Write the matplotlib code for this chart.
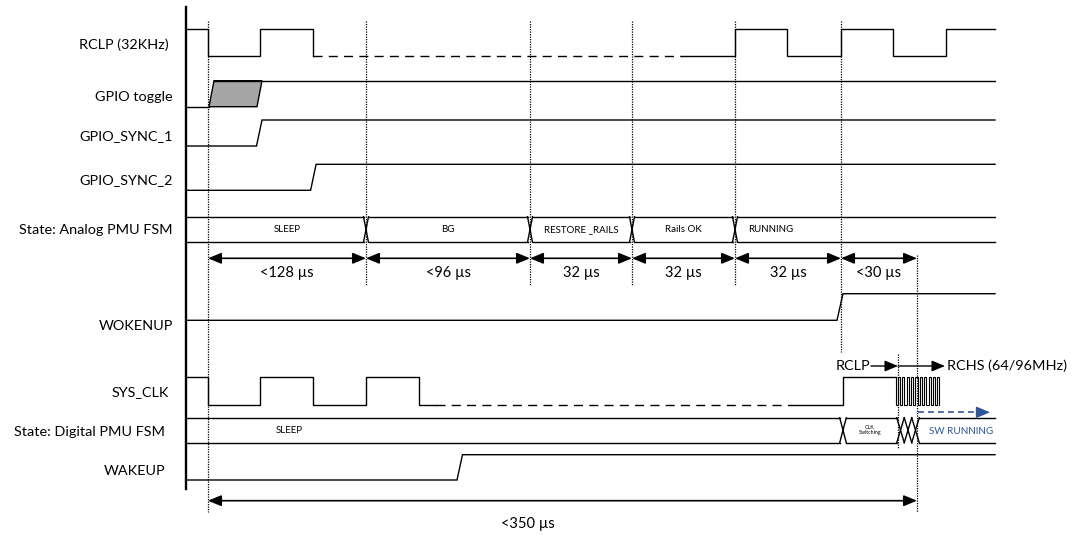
import matplotlib
matplotlib.use('Agg')
import matplotlib.pyplot as plt
from matplotlib.patches import Polygon, ArrowStyle

plt.rcParams['font.family'] = ['Lato', 'DejaVu Sans']

# ---- diagram data (x = time axis of the drawing, left to right) ----
x_start, x_stop = 186, 995
markers = [208, 366, 530, 632, 735, 841, 917]
durations = ['<128 µs', '<96 µs', '32 µs', '32 µs', '32 µs', '<30 µs']
total_label = '<350 µs'

signal_names = ['RCLP (32KHz)', 'GPIO toggle', 'GPIO_SYNC_1', 'GPIO_SYNC_2',
                'State: Analog PMU FSM', 'WOKENUP', 'SYS_CLK',
                'State: Digital PMU FSM', 'WAKEUP']

rclp_edges_a = [208, 260, 313]
rclp_idle = [313, 682]
rclp_edges_b = [735, 787, 841, 893, 946]

gpio_toggle_window = [209, 257]
sync1_edge = [256.5]
sync2_edge = [310.6]
wokenup_edge = [837]
wakeup_edge = [457]

sysclk_edges_a = [208, 260, 313, 366, 419]
sysclk_idle = [436, 791]
sysclk_edges_b = [843]
fast_clk_edges = [896, 898, 900, 902.2, 904.4, 906.6, 908.8, 911, 913.2, 915.4,
                  917.6, 919.8, 922, 924.2, 926.4, 928.6, 930.8, 933, 935.2, 937.4, 939.4]

analog_states = ['SLEEP', 'BG', 'RESTORE _RAILS', 'Rails OK', 'RUNNING']
digital_transitions = [843, 900.5, 908, 915.5]
digital_states = ['SLEEP', 'CLK\nSwitching', 'SW RUNNING']

blue = '#2f5597'

fig = plt.figure(figsize=(10.72, 5.36), dpi=100)
ax = fig.add_axes([0, 0, 1, 1])
ax.set_xlim(0, 1072)
ax.set_ylim(536, 0)
ax.axis('off')

LW = 1.0


def square(x0, x1, edges, start_hi, hi, lo, rise=0.0, lw=LW):
    lvl = start_hi
    xs, ys = [x0], [hi if lvl else lo]
    for e in edges:
        xs += [e, e + rise]
        ys += [hi if lvl else lo, lo if lvl else hi]
        lvl = not lvl
    xs.append(x1)
    ys.append(hi if lvl else lo)
    ax.plot(xs, ys, color='k', lw=lw, solid_joinstyle='miter')


def bus(x0, x1, trans, hws, top, bot):
    pts = [x0] + list(trans) + [x1]
    hw = [0] + list(hws) + [0]
    for i in range(len(pts) - 1):
        a, b = pts[i] + hw[i], pts[i + 1] - hw[i + 1]
        if b > a:
            ax.plot([a, b], [top, top], color='k', lw=LW)
            ax.plot([a, b], [bot, bot], color='k', lw=LW)
    for t, h in zip(trans, hws):
        ax.plot([t - h, t + h], [top, bot], color='k', lw=LW)
        ax.plot([t - h, t + h], [bot, top], color='k', lw=LW)


def arrow(xa, xb, y, style='<|-|>', lw=1.2, color='k'):
    ax.annotate('', xy=(xb, y), xytext=(xa, y),
                arrowprops=dict(arrowstyle=ArrowStyle(style, head_length=0.53, head_width=0.22),
                                mutation_scale=15, shrinkA=0, shrinkB=0, lw=lw, color=color))


dash = (0, (6.5, 4.5))

# rows: (high y, low y)
rows = {'rclp': (29.3, 56.2), 'gpio': (80.7, 106.7), 's1': (120, 146), 's2': (164.3, 190.3),
        'abus': (216.7, 242.3), 'wok': (293.7, 320.3), 'clk': (377.3, 404.7),
        'dbus': (417.7, 442.7), 'wak': (454.7, 480)}
label_y = [45, 97, 136, 180, 230, 326, 392, 432, 471]
label_x = [169, 173, 173, 173, 173, 173, 169, 165, 165]

for name, lx, ly in zip(signal_names, label_x, label_y):
    ax.text(lx, ly, name, ha='right', va='center', fontsize=10.4)

# main axis line
ax.plot([x_start, x_start], [7, 489], color='k', lw=1.7)

# RCLP
hi, lo = rows['rclp']
square(x_start, rclp_idle[0], rclp_edges_a, True, hi, lo)
ax.plot(rclp_idle, [lo, lo], color='k', lw=LW, linestyle=dash)
square(rclp_idle[1], x_stop, rclp_edges_b, False, hi, lo)

# GPIO toggle
hi, lo = rows['gpio']
ax.plot([x_start, gpio_toggle_window[0]], [lo, lo], color='k', lw=LW)
ax.add_patch(Polygon([(gpio_toggle_window[0], lo), (gpio_toggle_window[0] + 5, hi),
                      (gpio_toggle_window[1] + 5, hi), (gpio_toggle_window[1], lo)],
                     closed=True, facecolor='#a6a6a6', edgecolor='k', lw=LW))
ax.plot([gpio_toggle_window[0] + 5, x_stop], [hi, hi], color='k', lw=LW)

# GPIO syncs, WOKENUP, WAKEUP
square(x_start, x_stop, sync1_edge, False, *rows['s1'], rise=5.5)
square(x_start, x_stop, sync2_edge, False, *rows['s2'], rise=5.5)
square(x_start, x_stop, wokenup_edge, False, *rows['wok'], rise=6)
square(x_start, x_stop, wakeup_edge, False, *rows['wak'], rise=5.5)

# Analog PMU bus
top, bot = rows['abus']
bus(x_start, x_stop, markers[1:5], [2.5] * 4, top, bot)
bus_mid = (top + bot) / 2
for i, s in enumerate(analog_states[:4]):
    ax.text((markers[i] + markers[i + 1]) / 2, bus_mid, s, ha='center', va='center', fontsize=7)
ax.text(markers[4] + 13, bus_mid, analog_states[4], ha='left', va='center', fontsize=7)

# SYS_CLK
hi, lo = rows['clk']
square(x_start, sysclk_idle[0], sysclk_edges_a, True, hi, lo)
ax.plot(sysclk_idle, [lo, lo], color='k', lw=LW, linestyle=dash)
square(sysclk_idle[1], fast_clk_edges[0], sysclk_edges_b, False, hi, lo)
square(fast_clk_edges[0], fast_clk_edges[-1], fast_clk_edges, True, hi, lo, lw=0.8)

# Digital PMU bus
top, bot = rows['dbus']
bus(x_start, x_stop, digital_transitions, [3.3, 3.75, 3.75, 3.75], top, bot)
bus_mid = (top + bot) / 2
ax.text((markers[0] + markers[1]) / 2 + 2, bus_mid, digital_states[0], ha='center', va='center', fontsize=7)
ax.text((digital_transitions[0] + digital_transitions[1]) / 2 - 2, bus_mid, digital_states[1],
        ha='center', va='center', fontsize=3.8, linespacing=1.1)
ax.text(929, bus_mid + 1, digital_states[2], ha='left', va='center', fontsize=7.1, color=blue)
ax.plot([918, 980], [412.3, 412.3], color=blue, lw=1.2, linestyle=(0, (3.5, 2.5)))
ax.annotate('', xy=(990, 412.3), xytext=(979, 412.3),
            arrowprops=dict(arrowstyle=ArrowStyle('-|>', head_length=0.6, head_width=0.25),
                            mutation_scale=14, shrinkA=0, shrinkB=0, lw=1.0, color=blue))

# clock switch annotation
ax.text(870, 366, 'RCLP', ha='right', va='center', fontsize=10.4)
arrow(871, 898, 366, style='-|>', lw=1.0)
arrow(898, 945, 366, style='-|>', lw=1.0)
ax.text(947, 366, 'RCHS (64/96MHz)', ha='left', va='center', fontsize=10.4)

# dotted marker lines
marker_spans = [(21, 512), (21, 286), (21, 286), (21, 286), (21, 286), (21, 352), (255, 512)]
for m, (y0, y1) in zip(markers, marker_spans):
    ax.plot([m, m], [y0, y1], color='k', lw=0.9, linestyle=(0, (1, 1)))
ax.plot([898, 898], [354, 449], color='k', lw=0.9, linestyle=(0, (1, 1)))

# duration arrows
for i, d in enumerate(durations):
    arrow(markers[i], markers[i + 1], 258.3)
    ax.text((markers[i] + markers[i + 1]) / 2, 273, d, ha='center', va='center', fontsize=10.5)

arrow(markers[0], markers[-1], 500.7)
ax.text(528, 524, total_label, ha='center', va='center', fontsize=10.5)

fig.savefig('out.png', dpi=100)
